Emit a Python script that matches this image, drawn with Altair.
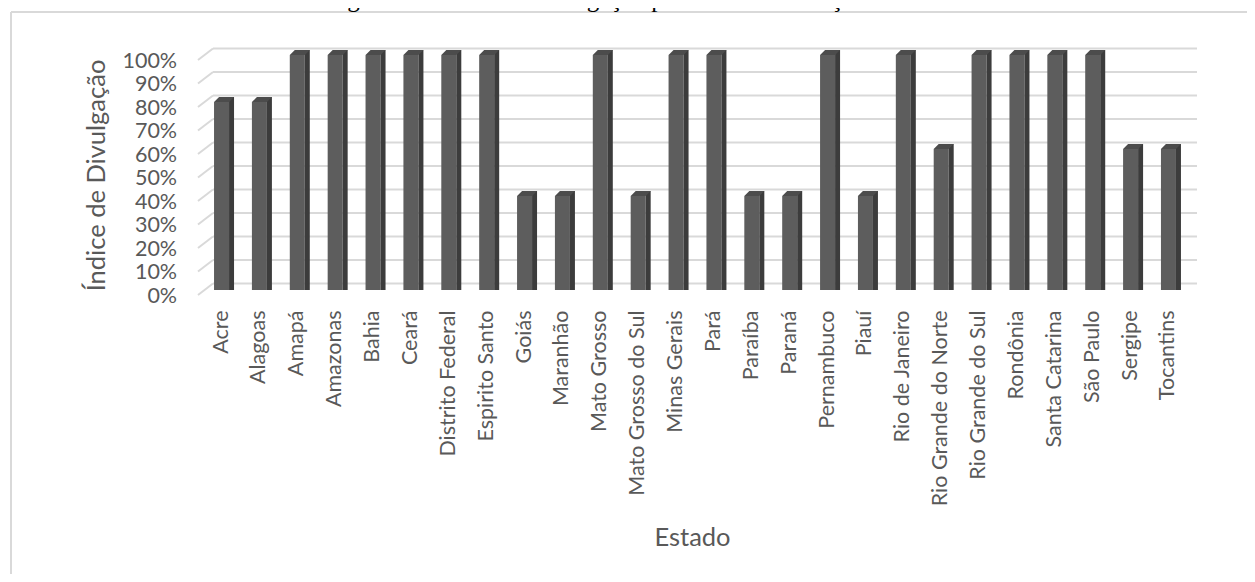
import altair as alt
import pandas as pd

estados = ["Acre", "Alagoas", "Amapá", "Amazonas", "Bahia", "Ceará", "Distrito Federal",
           "Espirito Santo", "Goiás", "Maranhão", "Mato Grosso", "Mato Grosso do Sul",
           "Minas Gerais", "Pará", "Paraíba", "Paraná", "Pernambuco", "Piauí",
           "Rio de Janeiro", "Rio Grande do Norte", "Rio Grande do Sul", "Rondônia",
           "Santa Catarina", "São Paulo", "Sergipe", "Tocantins"]
indice = [0.8, 0.8, 1.0, 1.0, 1.0, 1.0, 1.0, 1.0, 0.4, 0.4, 1.0, 0.4, 1.0, 1.0, 0.4, 0.4,
          1.0, 0.4, 1.0, 0.6, 1.0, 1.0, 1.0, 1.0, 0.6, 0.6]
ticks = [0.0, 0.1, 0.2, 0.3, 0.4, 0.5, 0.6, 0.7, 0.8, 0.9, 1.0]
titulo = "Figura 4 - Índice de Divulgação por ente da federação – Parte V do MCASP"

df = pd.DataFrame({"estado": estados, "indice": indice})
tdf = pd.DataFrame({"indice": ticks})
one = pd.DataFrame({"a": [0]})

W = 984.8
H = 235.0
LEFT = 194.6
TOP = 47.0
TOTAL_W = 1239
TOTAL_H = 566

FONT = "Lato"
GRAY = "#595959"
GRID = "#d9d9d9"

xaxis = alt.Axis(title="Estado", labelAngle=-90, ticks=False, domain=False, grid=False,
                 labelPadding=20, labelFont=FONT, labelFontSize=21.5,
                 labelColor=GRAY, labelLimit=300, titleFont=FONT,
                 titleFontSize=25.5, titleColor=GRAY, titleFontWeight="normal",
                 titleX=W / 2 - 3, titleY=255, titleBaseline="alphabetic")
xenc = alt.X("estado:N", sort=estados,
             scale=alt.Scale(paddingInner=0, paddingOuter=0), axis=xaxis)
yscale = alt.Scale(domain=[0, 1], nice=False, zero=True)
yaxis = alt.Axis(title="Índice de Divulgação", values=ticks, format=".0%",
                 ticks=False, domain=False, grid=False, labelPadding=26,
                 labelOffset=6, labelFont=FONT, labelFontSize=21.5,
                 labelColor=GRAY, titleFont=FONT, titleFontSize=25.5,
                 titleColor=GRAY, titleFontWeight="normal", titleX=-106,
                 titleY=120, titleAngle=-90, titleAlign="center",
                 titleBaseline="middle")
yenc = alt.Y("indice:Q", scale=yscale, axis=yaxis)

gridlines = alt.Chart(tdf).mark_rule(color=GRID, strokeWidth=2, yOffset=-6.5).encode(
    x=alt.value(10.4), x2=alt.value(W + 9.6), y=yenc)

diag = alt.Chart(tdf).mark_rule(color=GRID, strokeWidth=2, yOffset=5, y2Offset=-6.5).encode(
    x=alt.value(-4.6), x2=alt.value(10.4), y=yenc, y2=alt.Y2("indice:Q"))

front = alt.Chart(df).mark_bar(width=15, color="#5d5d5d").encode(
    x=xenc, y=yenc, y2=alt.datum(0))

side = alt.Chart(df).mark_bar(width=5, xOffset=10, color="#3c3c3c", yOffset=-5).encode(
    x=xenc, y=yenc, y2=alt.datum(0))

top = alt.Chart(df).mark_point(
    shape="M -1 0.25 L 0.5 0.25 L 1 -0.25 L -0.5 -0.25 Z", size=400, filled=True,
    opacity=1, color="#4c4c4c", strokeWidth=0, xOffset=2.5, yOffset=-2.5).encode(
    x=xenc, y=yenc)

frame_top = alt.Chart(one).mark_rule(color=GRID, strokeWidth=2).encode(
    x=alt.value(-LEFT + 3), x2=alt.value(TOTAL_W - LEFT), y=alt.value(-TOP + 4))
frame_left = alt.Chart(one).mark_rule(color=GRID, strokeWidth=2).encode(
    x=alt.value(-LEFT + 3), y=alt.value(-TOP + 4), y2=alt.value(TOTAL_H - TOP))

title = alt.Chart(one).mark_text(text=titulo, font="Liberation Serif", fontSize=25,
                                 color="#000000", baseline="alphabetic", align="center").encode(
    x=alt.value(699 - LEFT), y=alt.value(-TOP - 1))

chart = alt.layer(frame_top, frame_left, title, gridlines, diag, front, side, top).properties(
    width=W, height=H,
    autosize=alt.AutoSizeParams(type="none"),
    padding={"left": LEFT, "top": TOP, "right": TOTAL_W - LEFT - W, "bottom": TOTAL_H - TOP - H},
).configure(background="white").configure_view(stroke=None)

chart.save("out.html", embed_options={"renderer": "svg", "actions": False})
